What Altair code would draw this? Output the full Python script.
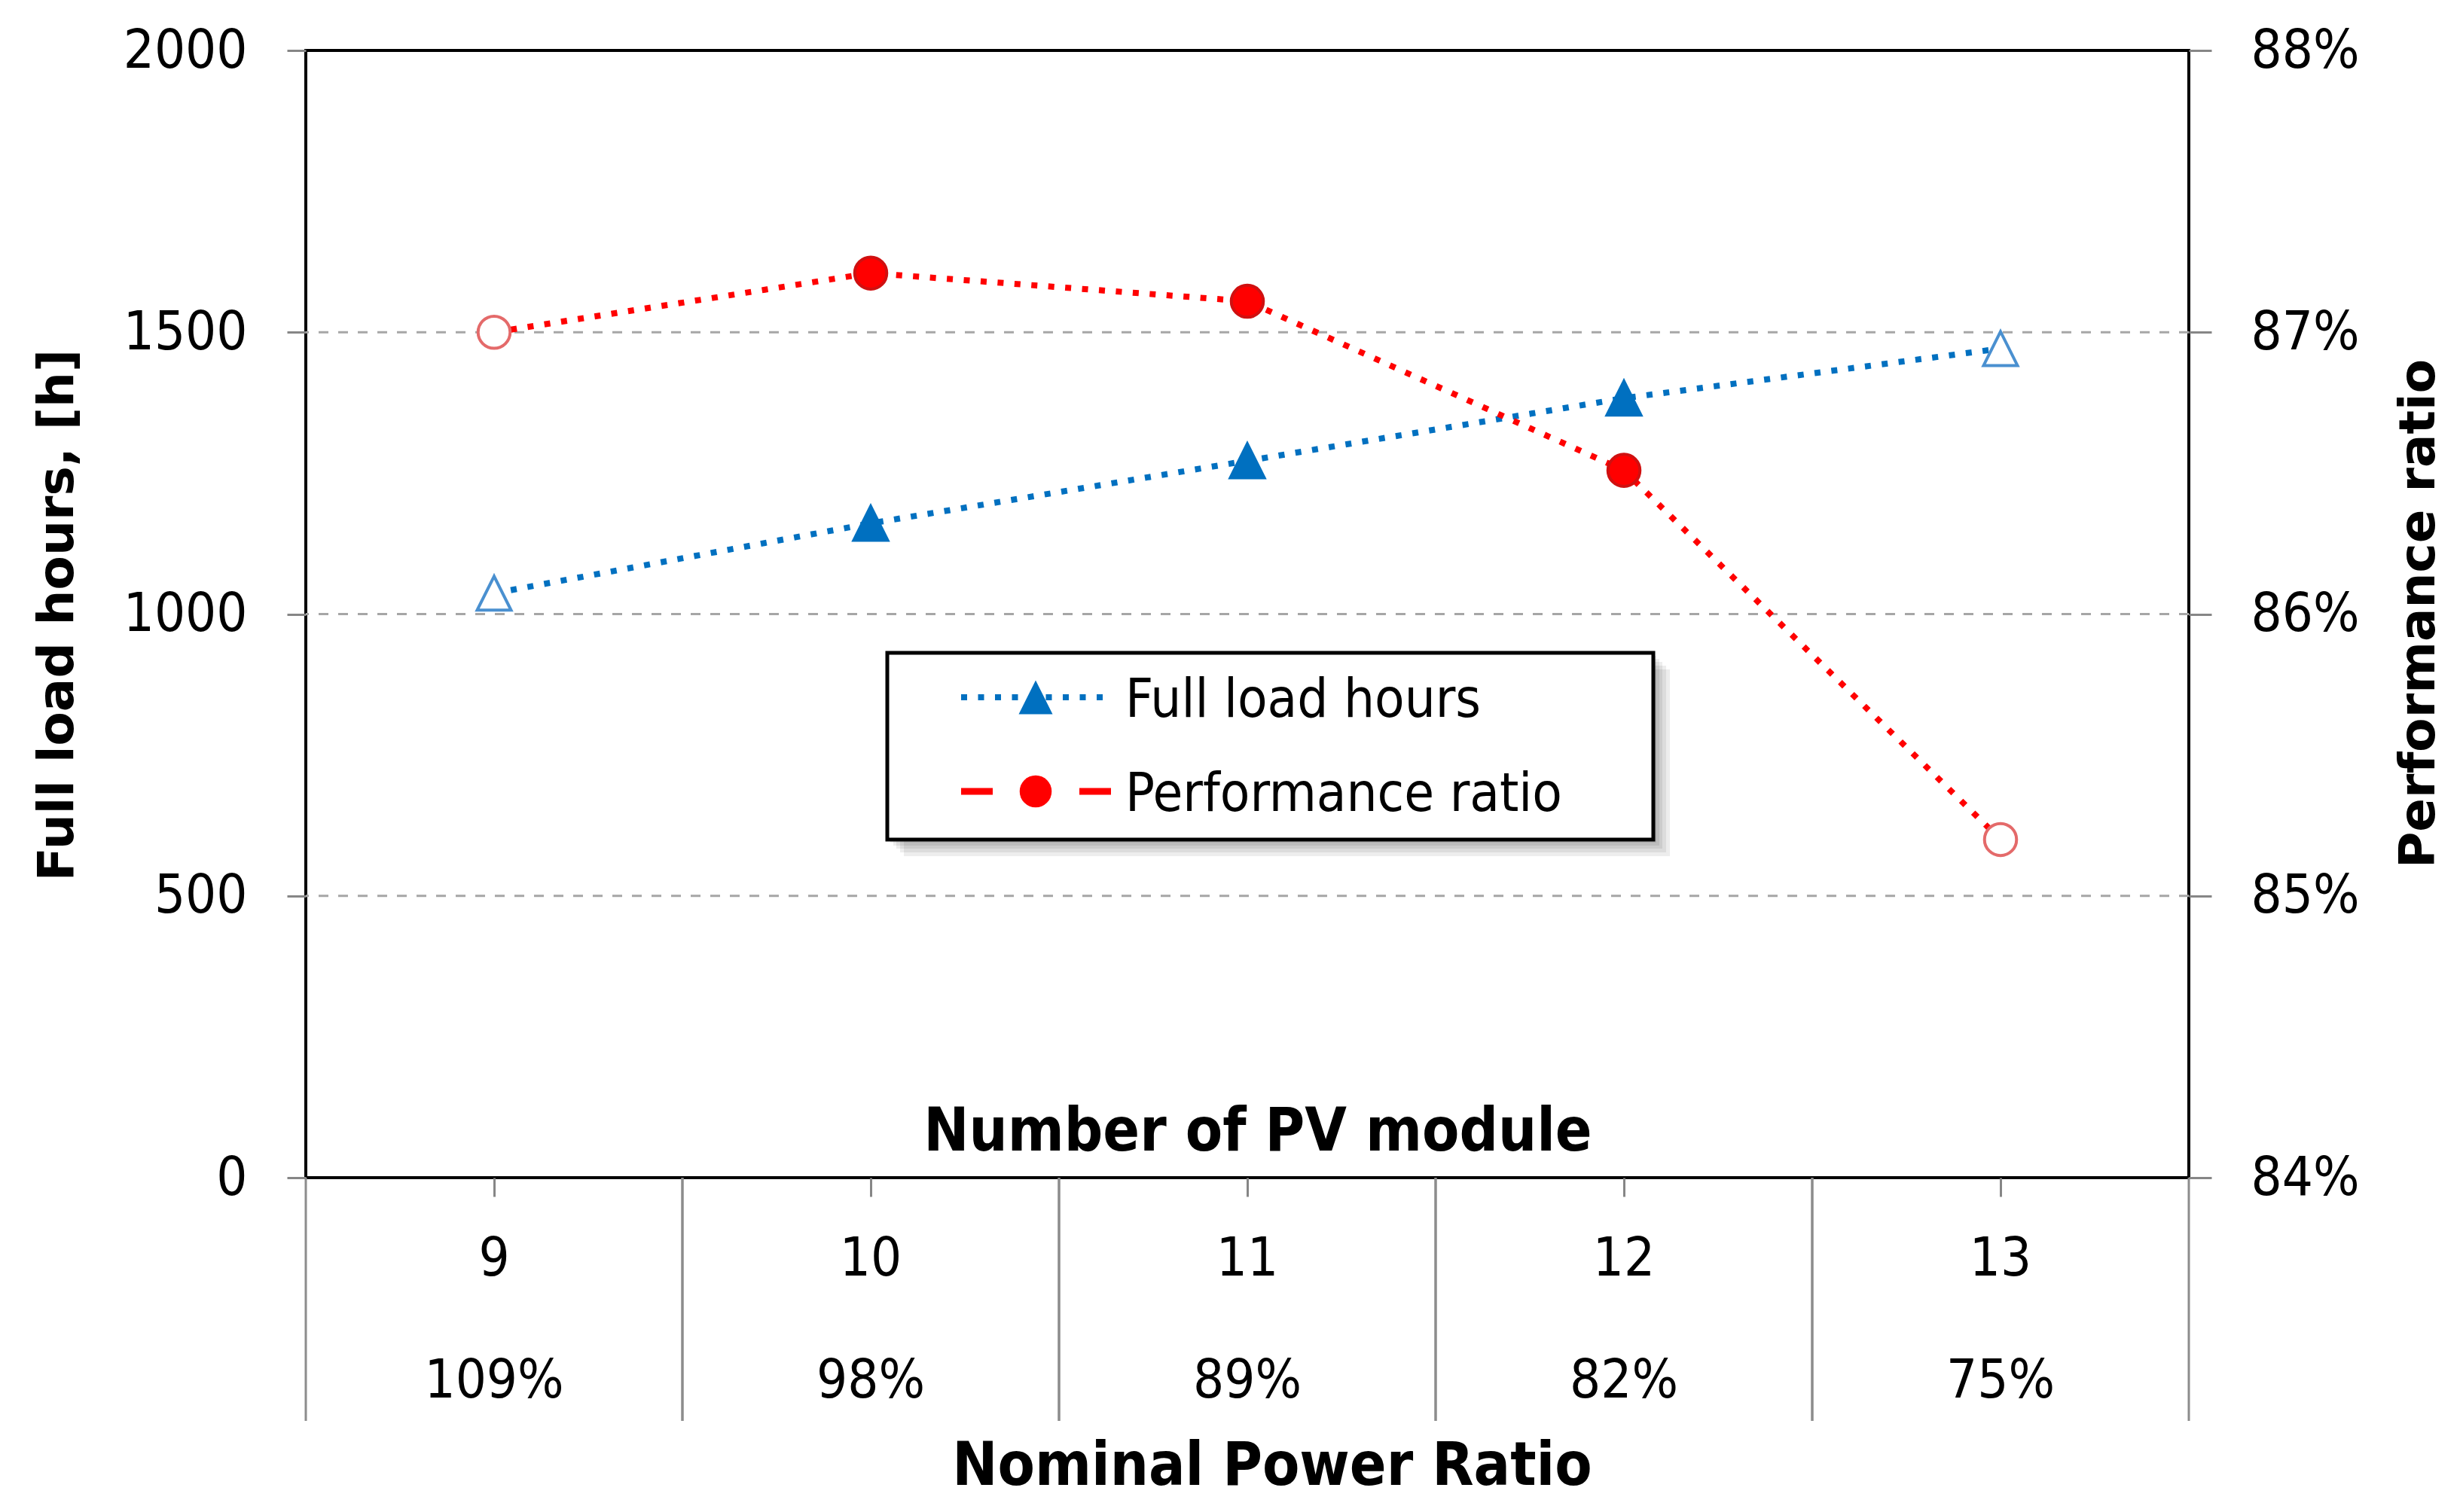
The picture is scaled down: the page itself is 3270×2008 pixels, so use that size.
import altair as alt
import pandas as pd

# ---------------- data ----------------
modules = ["9", "10", "11", "12", "13"]
nominal_power_ratio = ["109%", "98%", "89%", "82%", "75%"]
full_load_hours = [1037, 1161, 1272, 1383, 1471]
performance_ratio = [0.8700, 0.8721, 0.8711, 0.8651, 0.8520]
marker_style = ["hollow", "solid", "solid", "solid", "hollow"]
series_names = ["Full load hours", "Performance ratio"]
left_ticks = [0, 500, 1000, 1500, 2000]
left_grid = [500, 1000, 1500]
right_ticks = [0.84, 0.85, 0.86, 0.87, 0.88]
x_title_top = "Number of PV module"
x_title_bottom = "Nominal Power Ratio"
y_title_left = "Full load hours, [h]"
y_title_right = "Performance ratio"

df = pd.DataFrame({
    "module": modules,
    "npr": nominal_power_ratio,
    "flh": full_load_hours,
    "pr": performance_ratio,
    "style": marker_style,
})
grid_df = pd.DataFrame({"g": left_grid})
one = pd.DataFrame({"k": [0]})

# ---------------- styling ----------------
W, H = 2500, 1497
NARROW = "DejaVu Sans Condensed, Liberation Sans Narrow, Arial Narrow, sans-serif"
WIDE = "DejaVu Sans, Verdana, sans-serif"
BLUE = "#0070C0"
BLUE_LIGHT = "#4A90D0"
RED = "#FF0000"
RED_DARK = "#D01010"
RED_LIGHT = "#E46A6A"
GREY_TICK = "#868686"
TRI = "M0,-1L-1,1L1,1Z"
DOT = [8, 14.5]

xscale = alt.Scale(type="band", domain=modules, paddingInner=0, paddingOuter=0)
XAXIS = alt.Axis(labels=False, domain=False, grid=False, ticks=True, tickSize=25,
                 tickColor=GREY_TICK, tickWidth=3, title=None, bandPosition=0.5)


def X(bp=0.5):
    return alt.X("module:O", scale=xscale, bandPosition=bp, axis=XAXIS, sort=modules)


lscale = alt.Scale(domain=[0, 2000], nice=False, zero=False)
LAXIS = alt.Axis(orient="left", values=left_ticks, format="d", labelLimit=500, grid=False,
                 domain=False, tickSize=25, tickColor=GREY_TICK, tickWidth=3, labelPadding=53,
                 labelFont=NARROW, labelFontSize=72, labelColor="black", title=None)
rscale = alt.Scale(domain=[0.84, 0.88], nice=False, zero=False)
RAXIS = alt.Axis(orient="right", values=right_ticks, format=".0%", labelLimit=500, grid=False,
                 domain=False, tickSize=30, tickColor=GREY_TICK, tickWidth=3,
                 labelPadding=52, labelFont=NARROW, labelFontSize=72,
                 labelColor="black", title=None)

base = alt.Chart(df)

# ---- left series (full load hours) ----
grid = alt.Chart(grid_df).mark_rule(color="#A6A6A6", strokeWidth=3, strokeDash=[13, 13]).encode(
    y=alt.Y("g:Q", scale=lscale, axis=LAXIS)
)
blue_line = base.mark_line(color=BLUE, strokeWidth=8, strokeDash=DOT).encode(
    x=X(), y=alt.Y("flh:Q", scale=lscale, axis=LAXIS)
)
blue_pts = base.mark_point(shape=TRI, size=2025, filled=True, strokeWidth=4, opacity=1).encode(
    x=X(), y=alt.Y("flh:Q", scale=lscale, axis=LAXIS),
    fill=alt.condition(alt.datum.style == "solid", alt.value(BLUE), alt.value("#FFFFFF")),
    stroke=alt.condition(alt.datum.style == "solid", alt.value(BLUE), alt.value(BLUE_LIGHT)),
)
left = alt.layer(grid, blue_line, blue_pts)

# ---- right series (performance ratio) ----
red_line = base.mark_line(color=RED, strokeWidth=8, strokeDash=DOT).encode(
    x=X(), y=alt.Y("pr:Q", scale=rscale, axis=RAXIS)
)
red_pts = base.mark_point(shape="circle", size=1810, filled=True, strokeWidth=4, opacity=1).encode(
    x=X(), y=alt.Y("pr:Q", scale=rscale, axis=RAXIS),
    fill=alt.condition(alt.datum.style == "solid", alt.value(RED), alt.value("#FFFFFF")),
    stroke=alt.condition(alt.datum.style == "solid", alt.value(RED_DARK), alt.value(RED_LIGHT)),
)
right = alt.layer(red_line, red_pts)

# ---- category table below the plot ----
sep0 = base.mark_rule(color="#8C8C8C", strokeWidth=3).encode(
    x=X(0), y=alt.value(H), y2=alt.value(H + 323))
sep1 = base.mark_rule(color="#8C8C8C", strokeWidth=3).encode(
    x=X(1), y=alt.value(H), y2=alt.value(H + 323))
row1 = base.mark_text(font=NARROW, fontSize=72, color="black", baseline="middle",
                      align="center").encode(x=X(), y=alt.value(1605), text="module:N")
row2 = base.mark_text(font=NARROW, fontSize=72, color="black", baseline="middle",
                      align="center").encode(x=X(), y=alt.value(1767), text="npr:N")

# ---- titles ----
t_top = alt.Chart(pd.DataFrame({"t": [x_title_top]})).mark_text(
    font=NARROW, fontSize=80, fontWeight="bold", color="black", baseline="alphabetic",
    align="center").encode(x=alt.value(1264), y=alt.value(1461), text="t:N")
t_bottom = alt.Chart(pd.DataFrame({"t": [x_title_bottom]})).mark_text(
    font=NARROW, fontSize=80, fontWeight="bold", color="black", baseline="alphabetic",
    align="center").encode(x=alt.value(1283), y=alt.value(1905), text="t:N")
t_left = alt.Chart(pd.DataFrame({"t": [y_title_left]})).mark_text(
    font=WIDE, fontSize=66, fontWeight="bold", color="black", baseline="middle",
    align="center", angle=270).encode(x=alt.value(-329), y=alt.value(750), text="t:N")
t_right = alt.Chart(pd.DataFrame({"t": [y_title_right]})).mark_text(
    font=WIDE, fontSize=66, fontWeight="bold", color="black", baseline="middle",
    align="center", angle=270).encode(x=alt.value(2806), y=alt.value(748), text="t:N")

# ---- legend (box with shadow) ----
LX0, LX1, LY0, LY1 = 772, 1789, 800, 1048
shadows = [
    alt.Chart(one).mark_rect(color="#000000", opacity=0.07).encode(
        x=alt.value(LX0 + o), x2=alt.value(LX1 + o), y=alt.value(LY0 + o), y2=alt.value(LY1 + o))
    for o in (22, 17, 12, 8, 4)
]
box = alt.Chart(one).mark_rect(fill="#FFFFFF", stroke="#000000", strokeWidth=5).encode(
    x=alt.value(LX0), x2=alt.value(LX1), y=alt.value(LY0), y2=alt.value(LY1))
ROW_A, ROW_B = 859, 984
leg_blue_line = alt.Chart(one).mark_rule(color=BLUE, strokeWidth=8, strokeDash=DOT).encode(
    x=alt.value(870), x2=alt.value(1062), y=alt.value(ROW_A))
leg_blue_pt = alt.Chart(one).mark_point(shape=TRI, size=2025, filled=True, color=BLUE, opacity=1).encode(
    x=alt.value(969), y=alt.value(ROW_A))
leg_red_line = alt.Chart(one).mark_rule(color=RED, strokeWidth=9, strokeDash=[42, 115]).encode(
    x=alt.value(870), x2=alt.value(1069), y=alt.value(ROW_B))
leg_red_pt = alt.Chart(one).mark_point(shape="circle", size=1810, filled=True, color=RED, opacity=1).encode(
    x=alt.value(969), y=alt.value(ROW_B))
leg_text_a = alt.Chart(pd.DataFrame({"t": [series_names[0]]})).mark_text(
    font=NARROW, fontSize=72, color="black", baseline="middle", align="left").encode(
    x=alt.value(1088), y=alt.value(ROW_A + 4), text="t:N")
leg_text_b = alt.Chart(pd.DataFrame({"t": [series_names[1]]})).mark_text(
    font=NARROW, fontSize=72, color="black", baseline="middle", align="left").encode(
    x=alt.value(1088), y=alt.value(ROW_B + 4), text="t:N")

chart = alt.layer(
    left, right,
    sep0, sep1, row1, row2, t_top, t_bottom, t_left, t_right,
    *shadows, box, leg_blue_line, leg_blue_pt, leg_red_line, leg_red_pt, leg_text_a, leg_text_b,
).resolve_scale(y="independent").properties(
    width=W, height=H,
    autosize=alt.AutoSizeParams(type="none"),
    padding={"left": 398, "top": 59, "right": 356, "bottom": 428},
    background="#FFFFFF",
).configure_view(stroke="#000000", strokeWidth=4)

chart.save("out.html", embed_options={"renderer": "svg", "actions": False})
